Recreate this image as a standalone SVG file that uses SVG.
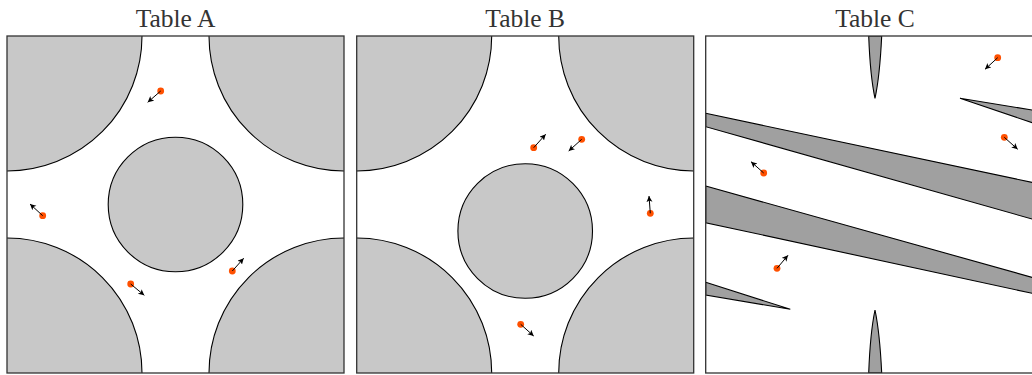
<svg xmlns="http://www.w3.org/2000/svg" width="1032" height="375" viewBox="0 0 1032 375">
<style>
.title{font-family:"Liberation Serif","DejaVu Serif",serif;font-size:25.5px;fill:#333;text-anchor:middle}
.box{fill:none;stroke:#333;stroke-width:1.3}
.disk{fill:#c8c8c8;stroke:#000;stroke-width:1.1}
.band{fill:#a0a0a0;stroke:#000;stroke-width:1.1;stroke-linejoin:miter}
.dot{fill:#ff5000}
.vel{stroke:#000;stroke-width:1;fill:none;marker-end:url(#ah)}
</style>
<defs>
<marker id="ah" markerUnits="userSpaceOnUse" markerWidth="8" markerHeight="8" refX="6" refY="3" orient="auto">
<path d="M0,0 L6,3 L0,6 L1.5,3 Z" fill="#000"/>
</marker>
<clipPath id="clipA"><rect x="7" y="36" width="337" height="337"/></clipPath>
<clipPath id="clipB"><rect x="356.7" y="36" width="337" height="337"/></clipPath>
<clipPath id="clipC"><rect x="705.7" y="36" width="337" height="337"/></clipPath>
</defs>
<rect width="1032" height="375" fill="#fff"/>

<g id="table-a">
<text class="title" x="175.5" y="27">Table A</text>
<g clip-path="url(#clipA)">
<circle class="disk" cx="7" cy="36" r="135"/>
<circle class="disk" cx="344" cy="36" r="135"/>
<circle class="disk" cx="7" cy="373" r="135"/>
<circle class="disk" cx="344" cy="373" r="135"/>
</g>
<circle class="disk" cx="175.5" cy="204.5" r="67.3"/>
<rect class="box" x="7" y="36" width="337" height="337"/>
<circle class="dot" cx="160.7" cy="91" r="3.4"/>
<circle class="dot" cx="42.7" cy="215.7" r="3.4"/>
<circle class="dot" cx="130.7" cy="284" r="3.4"/>
<circle class="dot" cx="232.3" cy="271" r="3.4"/>
</g>

<g id="table-b">
<text class="title" x="525.2" y="27">Table B</text>
<g clip-path="url(#clipB)">
<circle class="disk" cx="356.7" cy="36" r="135"/>
<circle class="disk" cx="693.7" cy="36" r="135"/>
<circle class="disk" cx="356.7" cy="373" r="135"/>
<circle class="disk" cx="693.7" cy="373" r="135"/>
</g>
<circle class="disk" cx="525.2" cy="231" r="67.3"/>
<rect class="box" x="356.7" y="36" width="337" height="337"/>
<circle class="dot" cx="533.7" cy="147.7" r="3.4"/>
<circle class="dot" cx="581.7" cy="139.3" r="3.4"/>
<circle class="dot" cx="650.3" cy="213.3" r="3.4"/>
<circle class="dot" cx="520.7" cy="324.3" r="3.4"/>
</g>

<g id="table-c">
<text class="title" x="875" y="27">Table C</text>
<g clip-path="url(#clipC)">
<path class="band" d="M868.7,36 Q870.2,76 875,98.3 Q879.8,76 881.7,36 Z"/>
<path class="band" d="M868.7,373 Q870.2,333 875,310 Q879.8,333 881.7,373 Z"/>
<path class="band" d="M960,98.3 L1042.7,111.7 L1042.7,126.3 Z"/>
<path class="band" d="M705.7,282.3 L790.3,309.3 L705.7,295 Z"/>
<path class="band" d="M705.7,113.3 L1042.7,184.6 L1042.7,222 L705.7,126.7 Z"/>
<path class="band" d="M705.7,186 L1042.7,280.3 L1042.7,295.6 L705.7,222.7 Z"/>
</g>
<rect class="box" x="705.7" y="36" width="337" height="337"/>
<circle class="dot" cx="997.7" cy="57.7" r="3.4"/>
<circle class="dot" cx="1004.3" cy="137.3" r="3.4"/>
<circle class="dot" cx="763.7" cy="173" r="3.4"/>
<circle class="dot" cx="777" cy="268.3" r="3.4"/>
</g>

<g id="velocity-arrows">
<line class="vel" x1="160.7" y1="91" x2="147.7" y2="102.3"/>
<line class="vel" x1="42.7" y1="215.7" x2="30" y2="204"/>
<line class="vel" x1="130.7" y1="284" x2="144.3" y2="295.3"/>
<line class="vel" x1="232.3" y1="271" x2="243.7" y2="258.3"/>
<line class="vel" x1="533.7" y1="147.7" x2="545.7" y2="134.3"/>
<line class="vel" x1="581.7" y1="139.3" x2="568.7" y2="151"/>
<line class="vel" x1="650.3" y1="213.3" x2="649" y2="196"/>
<line class="vel" x1="520.7" y1="324.3" x2="533.7" y2="336"/>
<line class="vel" x1="997.7" y1="57.7" x2="985" y2="69.3"/>
<line class="vel" x1="1004.3" y1="137.3" x2="1017.7" y2="149.3"/>
<line class="vel" x1="763.7" y1="173" x2="751" y2="161.7"/>
<line class="vel" x1="777" y1="268.3" x2="788" y2="255.3"/>
</g>
</svg>
